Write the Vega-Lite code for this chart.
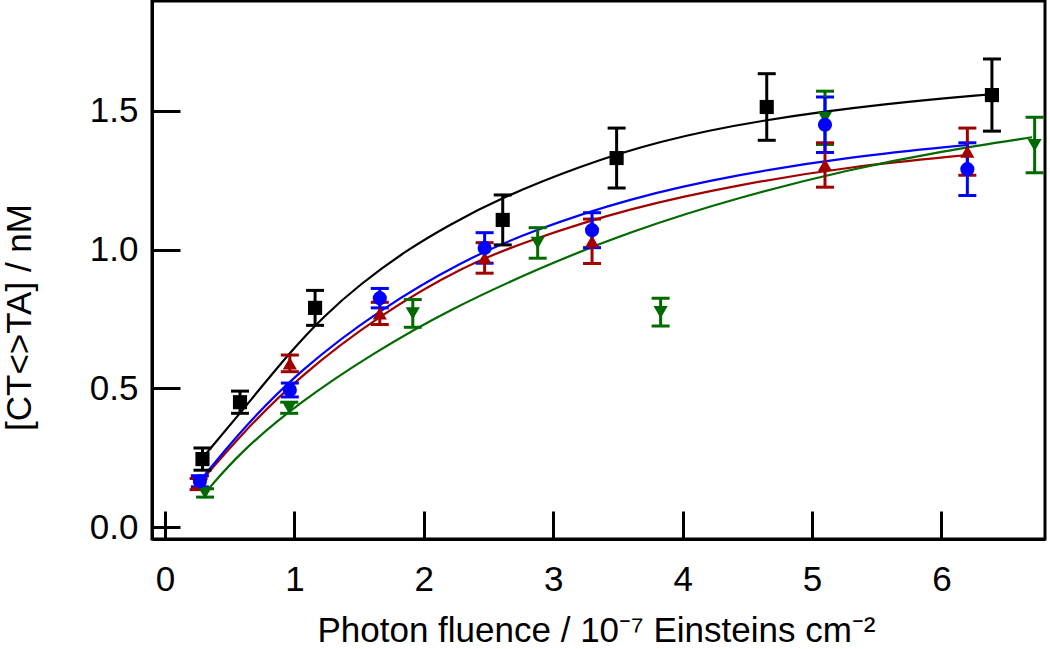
{
  "$schema": "https://vega.github.io/schema/vega-lite/v6.json",
  "width": 893,
  "height": 538,
  "autosize": {"type": "none"},
  "padding": {"left": 152, "top": 1, "right": 5, "bottom": 110},
  "background": "white",
  "config": {
    "view": {"stroke": "black", "strokeWidth": 3},
    "font": "Liberation Sans",
    "axis": {
      "grid": false,
      "domainColor": "black",
      "domainWidth": 3,
      "tickColor": "black",
      "tickWidth": 3,
      "tickSize": -28,
      "labelColor": "black",
      "labelFontSize": 35,
      "labelFont": "Liberation Sans",
      "titleFont": "Liberation Sans",
      "titleColor": "black",
      "titleFontSize": 35,
      "titleFontWeight": "normal"
    }
  },
  "datasets": {
    "points": [
      {"series": "s1", "x": 0.29, "y": 0.245, "err": 0.04},
      {"series": "s1", "x": 0.58, "y": 0.45, "err": 0.04},
      {"series": "s1", "x": 1.16, "y": 0.79, "err": 0.063},
      {"series": "s1", "x": 2.61, "y": 1.107, "err": 0.09},
      {"series": "s1", "x": 3.49, "y": 1.33, "err": 0.108},
      {"series": "s1", "x": 4.65, "y": 1.514, "err": 0.12},
      {"series": "s1", "x": 6.39, "y": 1.557, "err": 0.13},
      {"series": "s2", "x": 0.26, "y": 0.155, "err": 0.02},
      {"series": "s2", "x": 0.965, "y": 0.59, "err": 0.03},
      {"series": "s2", "x": 1.66, "y": 0.77, "err": 0.04},
      {"series": "s2", "x": 2.47, "y": 0.97, "err": 0.055},
      {"series": "s2", "x": 3.3, "y": 1.03, "err": 0.08},
      {"series": "s2", "x": 5.1, "y": 1.305, "err": 0.08},
      {"series": "s2", "x": 6.2, "y": 1.353, "err": 0.085},
      {"series": "s4", "x": 0.31, "y": 0.123, "err": 0.015},
      {"series": "s4", "x": 0.96, "y": 0.43, "err": 0.02},
      {"series": "s4", "x": 1.915, "y": 0.77, "err": 0.05},
      {"series": "s4", "x": 2.88, "y": 1.024, "err": 0.055},
      {"series": "s4", "x": 3.83, "y": 0.775, "err": 0.05},
      {"series": "s4", "x": 5.1, "y": 1.475, "err": 0.096},
      {"series": "s4", "x": 6.72, "y": 1.377, "err": 0.1},
      {"series": "s3", "x": 0.27, "y": 0.165, "err": 0.02},
      {"series": "s3", "x": 0.965, "y": 0.494, "err": 0.025},
      {"series": "s3", "x": 1.66, "y": 0.825, "err": 0.035},
      {"series": "s3", "x": 2.47, "y": 1.006, "err": 0.055},
      {"series": "s3", "x": 3.3, "y": 1.07, "err": 0.063},
      {"series": "s3", "x": 5.1, "y": 1.45, "err": 0.1},
      {"series": "s3", "x": 6.2, "y": 1.29, "err": 0.095}
    ],
    "fits": [
      {"series": "s1", "x": 0.29, "y": 0.249},
      {"series": "s1", "x": 0.58, "y": 0.41},
      {"series": "s1", "x": 0.965, "y": 0.63},
      {"series": "s1", "x": 1.22, "y": 0.757},
      {"series": "s1", "x": 1.506, "y": 0.875},
      {"series": "s1", "x": 1.87, "y": 0.999},
      {"series": "s1", "x": 2.2, "y": 1.09},
      {"series": "s1", "x": 2.59, "y": 1.185},
      {"series": "s1", "x": 3.2, "y": 1.3},
      {"series": "s1", "x": 3.8, "y": 1.39},
      {"series": "s1", "x": 4.59, "y": 1.467},
      {"series": "s1", "x": 5.6, "y": 1.528},
      {"series": "s1", "x": 6.39, "y": 1.56},
      {"series": "s2", "x": 0.26, "y": 0.155},
      {"series": "s2", "x": 0.58, "y": 0.33},
      {"series": "s2", "x": 1.04, "y": 0.545},
      {"series": "s2", "x": 1.66, "y": 0.765},
      {"series": "s2", "x": 2.3, "y": 0.94},
      {"series": "s2", "x": 2.82, "y": 1.035},
      {"series": "s2", "x": 3.59, "y": 1.15},
      {"series": "s2", "x": 4.44, "y": 1.235},
      {"series": "s2", "x": 5.3, "y": 1.3},
      {"series": "s2", "x": 6.2, "y": 1.341},
      {"series": "s3", "x": 0.27, "y": 0.166},
      {"series": "s3", "x": 0.58, "y": 0.345},
      {"series": "s3", "x": 1.04, "y": 0.566},
      {"series": "s3", "x": 1.66, "y": 0.785},
      {"series": "s3", "x": 2.3, "y": 0.96},
      {"series": "s3", "x": 2.82, "y": 1.065},
      {"series": "s3", "x": 3.59, "y": 1.186},
      {"series": "s3", "x": 4.44, "y": 1.272},
      {"series": "s3", "x": 5.3, "y": 1.335},
      {"series": "s3", "x": 6.2, "y": 1.377},
      {"series": "s4", "x": 0.31, "y": 0.123},
      {"series": "s4", "x": 0.58, "y": 0.27},
      {"series": "s4", "x": 1.04, "y": 0.45},
      {"series": "s4", "x": 1.6, "y": 0.625},
      {"series": "s4", "x": 2.2, "y": 0.785},
      {"series": "s4", "x": 2.9, "y": 0.935},
      {"series": "s4", "x": 3.59, "y": 1.065},
      {"series": "s4", "x": 4.44, "y": 1.19},
      {"series": "s4", "x": 5.3, "y": 1.29},
      {"series": "s4", "x": 6.0, "y": 1.355},
      {"series": "s4", "x": 6.7, "y": 1.405}
    ]
  },
  "encoding": {
    "x": {
      "field": "x",
      "type": "quantitative",
      "scale": {"domain": [-0.1, 6.8], "nice": false, "zero": false},
      "axis": {
        "values": [0, 1, 2, 3, 4, 5, 6],
        "format": "d",
        "labelBaseline": "alphabetic",
        "labelPadding": 79,
        "title": "Photon fluence / 10⁻⁷ Einsteins cm⁻²",
        "titleX": 444,
        "titleY": 102,
        "titleBaseline": "alphabetic",
        "titleAlign": "center",
        "titleAnchor": null
      }
    },
    "y": {
      "field": "y",
      "type": "quantitative",
      "scale": {"domain": [-0.043, 1.896], "nice": false, "zero": false},
      "axis": {
        "values": [0, 0.5, 1, 1.5],
        "format": ".1f",
        "labelPadding": 42,
        "title": "[CT<>TA] / nM",
        "titleX": -133,
        "titleY": 316,
        "titleAngle": -90,
        "titleBaseline": "middle",
        "titleAlign": "center"
      }
    },
    "color": {
      "field": "series",
      "type": "nominal",
      "scale": {"domain": ["s1", "s2", "s3", "s4"], "range": ["#000000", "#a00000", "#0000ff", "#006a00"]},
      "legend": null
    }
  },
  "layer": [
    {
      "data": {"name": "fits"},
      "mark": {"type": "line", "interpolate": "basis", "strokeWidth": 2.2},
      "encoding": {"detail": {"field": "series"}}
    },
    {
      "data": {"name": "points"},
      "mark": {"type": "errorbar", "opacity": 1, "thickness": 3, "ticks": {"size": 18, "thickness": 3, "opacity": 1}},
      "encoding": {"yError": {"field": "err"}}
    },
    {
      "data": {"name": "points"},
      "mark": {"type": "point", "filled": true, "opacity": 1, "size": 200},
      "encoding": {
        "shape": {
          "field": "series",
          "type": "nominal",
          "scale": {"domain": ["s1", "s2", "s3", "s4"], "range": ["square", "triangle-up", "circle", "triangle-down"]},
          "legend": null
        }
      }
    }
  ]
}
